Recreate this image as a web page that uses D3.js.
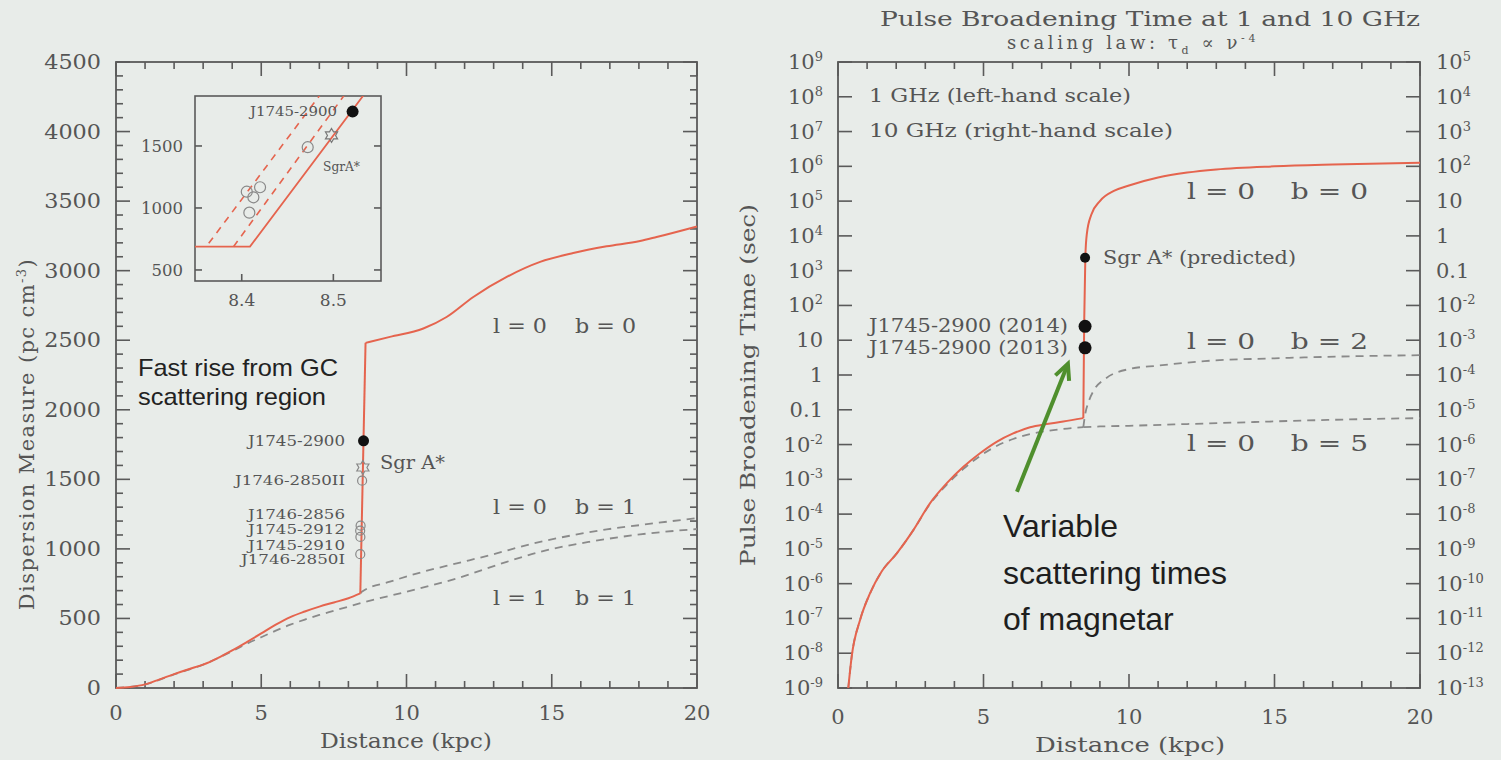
<!DOCTYPE html>
<html><head><meta charset="utf-8">
<script src="https://cdn.jsdelivr.net/npm/d3@7"></script>
<style>
body{margin:0;background:#e8ece9;}
svg{display:block;}
text{font-family:"DejaVu Serif",serif;fill:#555;white-space:pre;}
</style>
</head><body>
<svg id="c" width="1501" height="760"></svg>
<script>
// ---------------- DATA ----------------
// Left panel: dispersion measure (pc cm^-3) vs distance (kpc)
const dmL0B0Pre  = [[0,0],[0.5,8],[1,26],[1.5,62],[2,100],[2.5,135],[3,168],[3.5,215],[4,270],[4.5,330],[5,392],[5.5,455],[6,510],[6.5,550],[7,585],[7.5,615],[8,645],[8.41,680]];
const dmL0B0Post = [[8.59,2481],[9.43,2524],[10.58,2584],[11.38,2667],[12.3,2811],[13.45,2955],[14.6,3063],[15.74,3127],[16.89,3175],[18.04,3213],[18.61,3242],[20,3318]];
const dmL0B1 = [[8.41,680],[8.46,692],[9.43,764],[10.58,836],[11.73,896],[12.87,955],[14.6,1051],[15.74,1099],[16.89,1140],[18.04,1171],[20,1222]];
const dmL1B1 = [[0,0],[1,25],[2,98],[3,168],[4,265],[4.5,318],[5,365],[5.5,412],[6,455],[6.5,492],[7,525],[7.5,555],[8,585],[8.46,612],[10,692],[11.73,788],[13.45,907],[14.6,979],[16.3,1051],[18.04,1104],[20,1143]];
// pulsars (distance kpc, DM)
const pulsarNames = ["J1746-2856","J1745-2912","J1745-2910","J1746-2850I","J1746-2850II"];
const pulsarDist  = [8.420,8.4055,8.4127,8.4083,8.472];
const pulsarDM    = [1167,1131,1086,962,1490];
const magnetar    = {name:"J1745-2900", d:8.521, dm:1777};
const sgrA        = {name:"Sgr A*", d:8.498, dm:1585};
// inset model lines
const insetSolid  = [[8.30,688],[8.409,688],[8.60,2570]];
const insetDashA  = [[8.364,715],[8.50,2055]];
const insetDashB  = [[8.391,688],[8.53,2092]];

// Right panel: log10 pulse broadening time (s) at 1 GHz vs distance (kpc)
const tauL0B0Pre  = [[0.354,-9],[0.47,-8.1],[0.76,-7.04],[1.1,-6.28],[1.5,-5.65],[2.02,-5.13],[2.59,-4.46],[3.16,-3.69],[3.74,-3.11],[4.31,-2.64],[4.88,-2.25],[5.45,-1.92],[6.02,-1.68],[6.6,-1.5],[7.17,-1.41],[7.74,-1.34],[8.43,-1.24]];
const tauL0B0Post = [[8.43,-1.24],[8.46,1.5],[8.5,3.4],[8.55,4.05],[8.7,4.6],[9,5.0],[9.5,5.3],[10,5.45],[11,5.68],[12,5.82],[13,5.91],[15,6.0],[17,6.05],[20,6.1]];
const tauCommon   = [[0.354,-9],[0.47,-8.1],[0.76,-7.04],[1.1,-6.28],[1.5,-5.65],[2.02,-5.13],[2.59,-4.46],[3.16,-3.71],[3.74,-3.15],[4.31,-2.7],[4.88,-2.33],[5.45,-2.04],[6.02,-1.84],[6.6,-1.7],[7.17,-1.61],[7.74,-1.55],[8.43,-1.5]];
const tauL0B5Post = [[8.43,-1.5],[9,-1.48],[10,-1.46],[12,-1.41],[14,-1.36],[16,-1.31],[18,-1.27],[20,-1.24]];
const tauL0B2Post = [[8.43,-1.5],[8.5,-1.1],[8.6,-0.8],[8.8,-0.43],[9.2,-0.1],[10,0.17],[11,0.27],[12.6,0.4],[15,0.48],[17.8,0.54],[20,0.57]];
const tauPoints   = [{label:"Sgr A* (predicted)", d:8.49, e:3.37, r:5},{label:"J1745-2900 (2014)", d:8.49, e:1.40, r:6.5},{label:"J1745-2900 (2013)", d:8.49, e:0.78, r:6.5}];
const arrowFrom = [6.15,-3.36], arrowTo = [7.9,0.32];

// tick values
const leftXMajor = [0,5,10,15,20];
const leftYMajor = [0,500,1000,1500,2000,2500,3000,3500,4000,4500];
const rightExp   = d3.range(-9,10);
const insetXTicks = [8.4,8.5];
const insetYTicks = [500,1000,1500];

// ---------------- DRAW ----------------
const svg = d3.select('#c');
const RED = "#e5644e", GRAY="#8a8a8a", FRAME="#5a5a5a";

function tickLines(g, arr){
  g.selectAll(null).data(arr).join('line')
   .attr('x1',d=>d[0]).attr('y1',d=>d[1]).attr('x2',d=>d[2]).attr('y2',d=>d[3])
   .attr('stroke',FRAME).attr('stroke-width',1.6);
}
function txt(g,x,y,s,o={}){
  const t=g.append('text').attr('x',x).attr('y',y).text(s).attr('xml:space','preserve')
    .attr('font-size',o.size||20).attr('text-anchor',o.anchor||'start');
  if(o.len){t.attr('textLength',o.len).attr('lengthAdjust','spacingAndGlyphs');}
  if(o.fill) t.style('fill',o.fill);
  if(o.family) t.style('font-family',o.family);
  if(o.ls) t.attr('letter-spacing',o.ls);
  if(o.rotate) t.attr('transform',`rotate(${o.rotate},${x},${y})`);
  return t;
}

// ===== LEFT PANEL =====
const xL = d3.scaleLinear().domain([0,20]).range([116,697]);
const yL = d3.scaleLinear().domain([0,4500]).range([688,62]);
const gL = svg.append('g');
gL.append('rect').attr('x',xL(0)).attr('y',yL(4500)).attr('width',xL(20)-xL(0)).attr('height',yL(0)-yL(4500))
  .attr('fill','none').attr('stroke',FRAME).attr('stroke-width',1.8);
let tk=[];
d3.range(0,21,1).forEach(v=>{const L=leftXMajor.includes(v)?14:7; tk.push([xL(v),yL(0),xL(v),yL(0)-L],[xL(v),yL(4500),xL(v),yL(4500)+L]);});
d3.range(0,4501,100).forEach(v=>{const L=leftYMajor.includes(v)?14:7; tk.push([xL(0),yL(v),xL(0)+L,yL(v)],[xL(20),yL(v),xL(20)-L,yL(v)]);});
tickLines(gL,tk);
leftXMajor.forEach(v=>txt(gL,xL(v),720,String(v),{size:21,anchor:'middle'}));
leftYMajor.forEach(v=>txt(gL,101,yL(v)+7,String(v),{size:21,anchor:'end',len:String(v).length*14.2}));
txt(gL,406,748,"Distance (kpc)",{size:21,anchor:'middle',len:172});
const yt = txt(gL,34,434,"",{size:21,anchor:'middle',rotate:-90,ls:1.4});
yt.append('tspan').text("Dispersion Measure (pc cm");
yt.append('tspan').text("-3").attr('font-size',13).attr('dy',-8);
yt.append('tspan').text(")").attr('dy',8);

const lineL = d3.line().x(d=>xL(d[0])).y(d=>yL(d[1])).curve(d3.curveMonotoneX);
const lineLlin = d3.line().x(d=>xL(d[0])).y(d=>yL(d[1]));
gL.append('path').attr('d',lineL(dmL1B1)).attr('fill','none').attr('stroke',GRAY).attr('stroke-width',1.8).attr('stroke-dasharray','8,6');
gL.append('path').attr('d',lineL(dmL0B1)).attr('fill','none').attr('stroke',GRAY).attr('stroke-width',1.8).attr('stroke-dasharray','8,6');
gL.append('path').attr('d',lineL(dmL0B0Pre)).attr('fill','none').attr('stroke',RED).attr('stroke-width',2);
gL.append('path').attr('d',lineLlin([dmL0B0Pre[dmL0B0Pre.length-1],dmL0B0Post[0]])).attr('fill','none').attr('stroke',RED).attr('stroke-width',2);
gL.append('path').attr('d',lineL(dmL0B0Post)).attr('fill','none').attr('stroke',RED).attr('stroke-width',2);

function hexagram(cx,cy,r){
  const pts=[];
  for(let i=0;i<12;i++){const a=-Math.PI/2+i*Math.PI/6; const rr=i%2?r*0.58:r; pts.push([cx+rr*Math.cos(a),cy+rr*Math.sin(a)]);}
  return 'M'+pts.map(p=>p.join(',')).join('L')+'Z';
}
pulsarNames.forEach((n,i)=>{
  gL.append('circle').attr('cx',xL(pulsarDist[i])).attr('cy',yL(pulsarDM[i])).attr('r',4.5)
    .attr('fill','none').attr('stroke','#888').attr('stroke-width',1.2);
});
gL.append('path').attr('d',hexagram(xL(sgrA.d),yL(sgrA.dm),7)).attr('fill','none').attr('stroke','#888').attr('stroke-width',1.2);
gL.append('circle').attr('cx',xL(magnetar.d)).attr('cy',yL(magnetar.dm)).attr('r',5.5).attr('fill','#111');
const pulsarLabelY = {"J1746-2856":519,"J1745-2912":534,"J1745-2910":550,"J1746-2850I":564,"J1746-2850II":485};
txt(gL,345,yL(magnetar.dm)+5,magnetar.name,{size:14,anchor:'end',len:97});
pulsarNames.forEach(n=>txt(gL,345,pulsarLabelY[n],n,{size:12.5,anchor:'end',len:n.length>11?110:(n.length>10?104:97)}));
txt(gL,380,469,"Sgr A*",{size:18,len:65});
txt(gL,493,333,"l = 0    b = 0",{size:20,len:143});
txt(gL,493,514,"l = 0    b = 1",{size:20,len:143});
txt(gL,493,605,"l = 1    b = 1",{size:20,len:143});
txt(gL,138,376,"Fast rise from GC",{size:24,family:"Liberation Sans, Arial, sans-serif",fill:"#222",len:200});
txt(gL,138,405,"scattering region",{size:24,family:"Liberation Sans, Arial, sans-serif",fill:"#222",len:188});

// ===== INSET =====
const xI = d3.scaleLinear().domain([8.349,8.552]).range([195,381]);
const yI = d3.scaleLinear().domain([411,1903]).range([281,96]);
const gI = svg.append('g');
gI.append('rect').attr('x',195).attr('y',96).attr('width',186).attr('height',185).attr('fill','#e8ece9').attr('stroke',FRAME).attr('stroke-width',1.6);
svg.append('clipPath').attr('id','ci').append('rect').attr('x',195).attr('y',96).attr('width',186).attr('height',185);
const gIc = gI.append('g').attr('clip-path','url(#ci)');
const lineI = d3.line().x(d=>xI(d[0])).y(d=>yI(d[1]));
gIc.append('path').attr('d',lineI(insetDashA)).attr('fill','none').attr('stroke',RED).attr('stroke-width',1.6).attr('stroke-dasharray','7,6');
gIc.append('path').attr('d',lineI(insetDashB)).attr('fill','none').attr('stroke',RED).attr('stroke-width',1.6).attr('stroke-dasharray','7,6');
gIc.append('path').attr('d',lineI(insetSolid)).attr('fill','none').attr('stroke',RED).attr('stroke-width',1.8);
tk=[];
insetYTicks.forEach(v=>tk.push([195,yI(v),202,yI(v)],[381,yI(v),374,yI(v)]));
insetXTicks.forEach(v=>tk.push([xI(v),281,xI(v),274]));
tickLines(gI,tk);
insetYTicks.forEach(v=>txt(gI,183,yI(v)+6,String(v),{size:17,anchor:'end',len:String(v).length*10.5}));
insetXTicks.forEach(v=>txt(gI,xI(v),306,v.toFixed(1),{size:17,anchor:'middle'}));
pulsarNames.forEach((n,i)=>gIc.append('circle').attr('cx',xI(pulsarDist[i])).attr('cy',yI(pulsarDM[i])).attr('r',5.5)
  .attr('fill','none').attr('stroke','#888').attr('stroke-width',1.2));
gIc.append('path').attr('d',hexagram(xI(sgrA.d),yI(sgrA.dm),7)).attr('fill','none').attr('stroke','#777').attr('stroke-width',1.2);
gIc.append('circle').attr('cx',xI(magnetar.d)).attr('cy',yI(magnetar.dm)).attr('r',6).attr('fill','#111');
txt(gI,337,116,magnetar.name,{size:13,anchor:'end',len:87});
txt(gI,323,171,"SgrA*",{size:13,len:37});

// ===== RIGHT PANEL =====
const xR = d3.scaleLinear().domain([0,20]).range([838,1420]);
const yR = d3.scaleLog().domain([1e-9,1e9]).range([688,62]);
const gR = svg.append('g');
gR.append('rect').attr('x',838).attr('y',62).attr('width',582).attr('height',626).attr('fill','none').attr('stroke',FRAME).attr('stroke-width',1.8);
tk=[];
d3.range(0,21,1).forEach(v=>{const L=leftXMajor.includes(v)?14:7; tk.push([xR(v),688,xR(v),688-L],[xR(v),62,xR(v),62+L]);});
rightExp.forEach(e=>{const y=yR(Math.pow(10,e)); tk.push([838,y,852,y],[1420,y,1406,y]);});
tickLines(gR,tk);
leftXMajor.forEach(v=>txt(gR,xR(v),724,String(v),{size:21,anchor:'middle'}));
function expLabel(g,x,y,e,anchor){
  if(e===1) return txt(g,x,y,"10",{size:21,anchor});
  if(e===0) return txt(g,x,y,"1",{size:21,anchor});
  if(e===-1) return txt(g,x,y,"0.1",{size:21,anchor});
  const t=txt(g,x,y,"",{size:21,anchor});
  t.append('tspan').text("10");
  t.append('tspan').text(String(e)).attr('font-size',13).attr('dy',-8);
  return t;
}
rightExp.forEach(e=>expLabel(gR,823,yR(Math.pow(10,e))+7,e,'end'));
rightExp.forEach(e=>expLabel(gR,1436,yR(Math.pow(10,e))+7,e-4,'start'));
txt(gR,1130,752,"Distance (kpc)",{size:21,anchor:'middle',len:190});
txt(gR,755,385,"Pulse Broadening Time (sec)",{size:21,anchor:'middle',rotate:-90,len:362});
txt(gR,1150,26,"Pulse Broadening Time at 1 and 10 GHz",{size:21,anchor:'middle',len:540});
const st = txt(gR,1007,49,"",{size:18,ls:3.6});
st.append('tspan').text("scaling law: τ");
st.append('tspan').text("d").attr('font-size',11).attr('dy',5);
st.append('tspan').text(" ∝ ν").attr('dy',-5);
st.append('tspan').text("-4").attr('font-size',11).attr('dy',-7);
txt(gR,869,102,"1 GHz (left-hand scale)",{size:19,len:262});
txt(gR,869,137,"10 GHz (right-hand scale)",{size:19,len:304});
txt(gR,1187,199,"l = 0    b = 0",{size:22,len:181});
txt(gR,1187,349,"l = 0    b = 2",{size:22,len:181});
txt(gR,1187,451,"l = 0    b = 5",{size:22,len:181});

const lineR = d3.line().x(d=>xR(d[0])).y(d=>yR(Math.pow(10,d[1]))).curve(d3.curveMonotoneX);
[tauCommon,tauL0B5Post,tauL0B2Post].forEach(a=>gR.append('path').attr('d',lineR(a)).attr('fill','none').attr('stroke',GRAY).attr('stroke-width',1.8).attr('stroke-dasharray','8,6'));
[tauL0B0Pre,tauL0B0Post].forEach(a=>gR.append('path').attr('d',lineR(a)).attr('fill','none').attr('stroke',RED).attr('stroke-width',2));
tauPoints.forEach((p,i)=>{
  gR.append('circle').attr('cx',xR(p.d)).attr('cy',yR(Math.pow(10,p.e))).attr('r',p.r).attr('fill','#111');
  if(i===0) txt(gR,1103,yR(Math.pow(10,p.e))+6,p.label,{size:18,len:193});
  else txt(gR,1068,yR(Math.pow(10,p.e))+6,p.label,{size:18,anchor:'end',len:199});
});
const ax1=xR(arrowFrom[0]), ay1=yR(Math.pow(10,arrowFrom[1])), ax2=xR(arrowTo[0]), ay2=yR(Math.pow(10,arrowTo[1]));
const ang=Math.atan2(ay2-ay1,ax2-ax1), hl=17;
gR.append('line').attr('x1',ax1).attr('y1',ay1).attr('x2',ax2-2*Math.cos(ang)).attr('y2',ay2-2*Math.sin(ang)).attr('stroke','#4f8f2d').attr('stroke-width',4);
gR.append('path').attr('d',`M${ax2+hl*Math.cos(ang+Math.PI-0.45)},${ay2+hl*Math.sin(ang+Math.PI-0.45)}L${ax2},${ay2}L${ax2+hl*Math.cos(ang+Math.PI+0.45)},${ay2+hl*Math.sin(ang+Math.PI+0.45)}`)
  .attr('fill','none').attr('stroke','#4f8f2d').attr('stroke-width',4).attr('stroke-linejoin','miter');
const bigF="Liberation Sans, Arial, sans-serif";
txt(gR,1003,537,"Variable",{size:32,family:bigF,fill:"#1e1e1e"});
txt(gR,1003,584,"scattering times",{size:32,family:bigF,fill:"#1e1e1e"});
txt(gR,1003,630,"of magnetar",{size:32,family:bigF,fill:"#1e1e1e"});
</script>
</body></html>
